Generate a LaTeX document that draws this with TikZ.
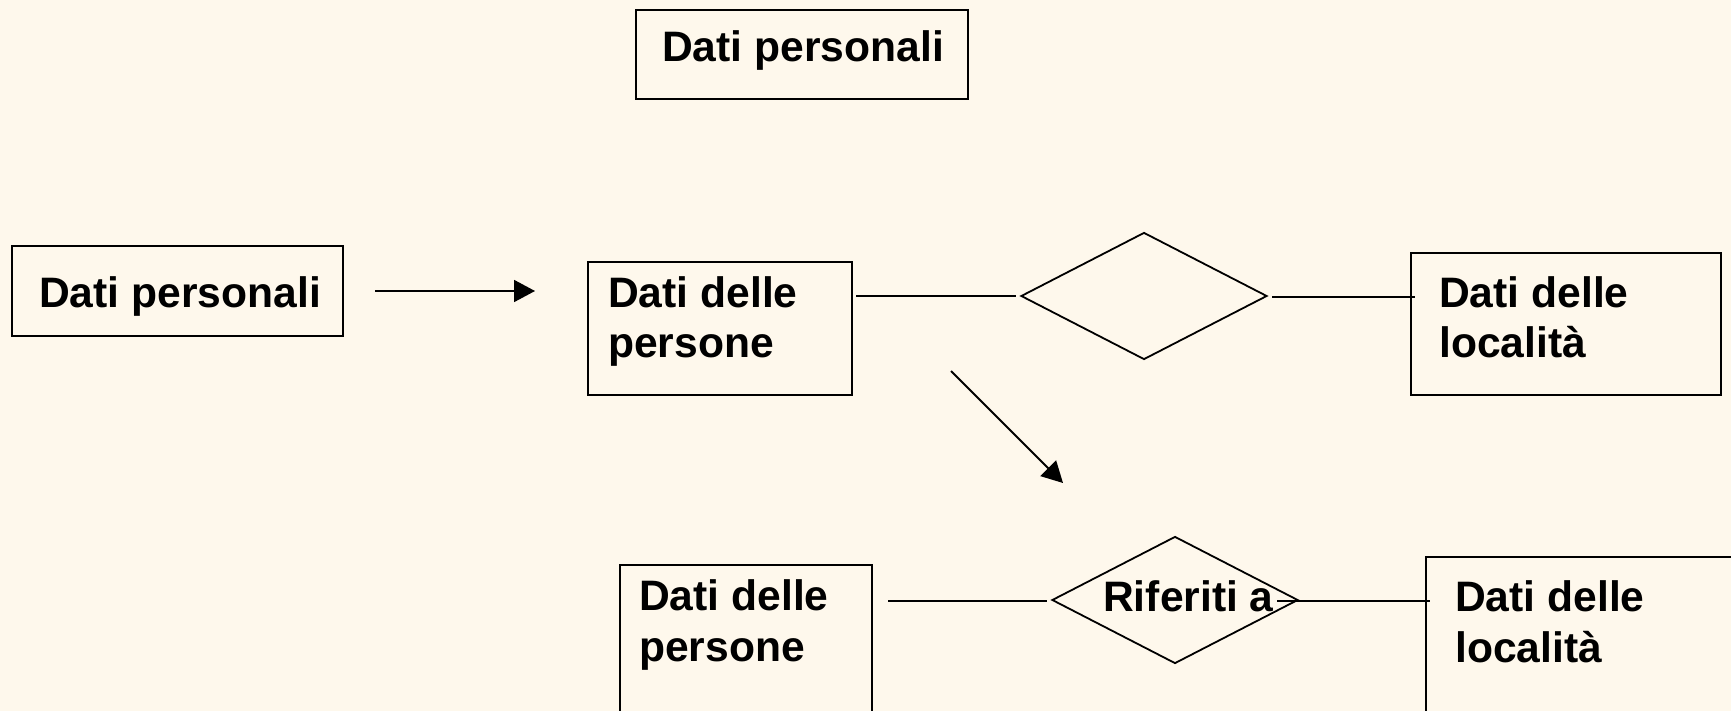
\documentclass[tikz,border=0pt]{standalone}
\usepackage{fontspec}
\setmainfont{Liberation Sans}
\usetikzlibrary{shapes.geometric,arrows.meta}
\definecolor{paper}{HTML}{FEF8EC}
\begin{document}
\begin{tikzpicture}[x=1pt,y=-1pt,
  box/.style={draw=black, line width=2.2pt, rectangle, inner sep=0pt},
  rel/.style={draw=black, line width=1.8pt, diamond, inner sep=0pt,
              minimum width=246pt, minimum height=127pt},
  txt/.style={anchor=base west, inner sep=0pt, text=black,
              font=\fontsize{42.6}{50}\selectfont\bfseries},
  link/.style={draw=black, line width=1.8pt},
  flow/.style={link, -{Triangle[length=21pt,width=22pt]}}]

% page
\fill[paper] (0,0) rectangle (1731,711);
\useasboundingbox (0,0) rectangle (1731,711);
\clip (0,0) rectangle (1731,711);

% heading
\node[box, minimum width=332pt, minimum height=89pt] (hdr) at (802,54.5) {};
\node[txt] (hdrT) at (662,62) {Dati personali};

% first row: source entity, its refinement
\node[box, minimum width=331pt, minimum height=90pt] (src) at (177.5,291) {};
\node[txt] (srcT) at (39,307) {Dati personali};

\node[box, minimum width=264pt, minimum height=133pt] (pers) at (720,328.5) {};
\node[txt] (persT1) at (608,307) {Dati delle};
\node[txt] (persT2) at (608,357) {persone};

\node[rel] (rel1) at (1144,296) {};

\node[box, minimum width=310pt, minimum height=142pt] (loc) at (1566,324) {};
\node[txt] (locT1) at (1439,307) {Dati delle};
\node[txt] (locT2) at (1439,357) {località};

% second row: named relationship
\node[box, minimum width=252pt, minimum height=170pt] (pers2) at (746,650) {};
\node[txt] (pers2T1) at (639,610) {Dati delle};
\node[txt] (pers2T2) at (639,661) {persone};

\node[rel] (rel2) at (1175,600) {};
\node[txt] (rel2T) at (1103,611) {Riferiti a};

\node[box, minimum width=340pt, minimum height=180pt] (loc2) at (1596,647) {};
\node[txt] (loc2T1) at (1455,611) {Dati delle};
\node[txt] (loc2T2) at (1455,662) {località};

% connector end points
\coordinate (a1s) at (375,291);
\coordinate (a1e) at (535,291);
\coordinate (a2s) at (951,371);
\coordinate (a2e) at (1063,483);
\coordinate (l1a) at (856,296);
\coordinate (l1b) at (1016,296);
\coordinate (l1c) at (1272,297);
\coordinate (l1d) at (1415,297);
\coordinate (l2a) at (888,601);
\coordinate (l2b) at (1047,601);
\coordinate (l2c) at (1277,601);
\coordinate (l2d) at (1430,601);

% connectors
\draw[flow] (a1s) -- (a1e);
\draw[flow] (a2s) -- (a2e);
\draw[link] (l1a) -- (l1b);
\draw[link] (l1c) -- (l1d);
\draw[link] (l2a) -- (l2b);
\draw[link] (l2c) -- (l2d);
\end{tikzpicture}
\end{document}
